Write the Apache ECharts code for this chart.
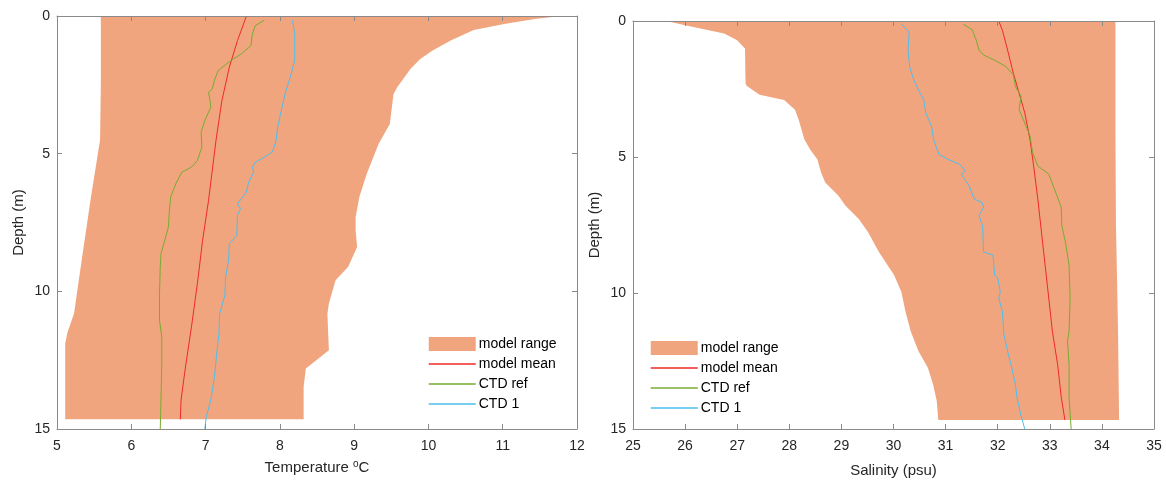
<!DOCTYPE html>
<html>
<head>
<meta charset="utf-8">
<script src="https://cdn.jsdelivr.net/npm/echarts@6/dist/echarts.min.js"></script>
<style>
  html, body { margin: 0; padding: 0; background: #ffffff; }
  #chart { width: 1166px; height: 483px; }
</style>
</head>
<body>
<div id="chart"></div>
<script>
// ---- Temperature profiles: [temperature (degC), depth (m)] ----
const tempRangeLow = [[5.59,0],[5.59,2.5],[5.58,4.5],[5.55,5.0],[5.45,6.7],[5.32,9.1],[5.23,10.8],[5.14,11.5],[5.11,11.9],[5.11,14.65]];
const tempRangeHigh = [[11.79,0],[11.43,0.11],[11.02,0.29],[10.61,0.51],[10.30,0.89],[10.05,1.26],[9.89,1.56],[9.76,1.92],[9.58,2.59],[9.53,2.83],[9.48,3.92],[9.33,4.64],[9.17,5.73],[9.07,6.57],[9.02,7.30],[9.02,7.78],[9.04,8.39],[8.92,9.11],[8.75,9.6],[8.66,10.44],[8.64,10.81],[8.66,12.14],[8.35,12.8],[8.32,13.47],[8.32,14.65]];
const tempMean = [[7.55,0],[7.43,0.89],[7.32,1.86],[7.22,3.07],[7.14,4.52],[7.04,6.7],[6.96,8.15],[6.89,9.72],[6.81,11.29],[6.73,12.74],[6.67,13.95],[6.66,14.65]];
const tempCtdRef = [[7.79,0.15],[7.67,0.35],[7.63,0.65],[7.61,1.08],[7.48,1.38],[7.35,1.6],[7.17,1.98],[7.12,2.34],[7.09,2.65],[7.04,2.77],[7.06,3.07],[7.07,3.31],[6.99,3.8],[6.94,4.22],[6.95,4.76],[6.89,5.25],[6.81,5.49],[6.68,5.67],[6.6,6.09],[6.53,6.58],[6.51,7.18],[6.5,7.66],[6.45,8.15],[6.4,8.63],[6.39,9.11],[6.38,10.08],[6.38,11.05],[6.41,11.65],[6.41,12.74],[6.39,15]];
const tempCtd1 = [[8.17,0.15],[8.2,0.65],[8.2,1.62],[8.14,2.22],[8.07,2.83],[8.02,3.43],[7.97,4.04],[7.95,4.52],[7.9,4.94],[7.79,5.13],[7.67,5.31],[7.63,5.49],[7.65,5.67],[7.58,6.03],[7.55,6.39],[7.43,6.82],[7.47,7.0],[7.43,7.24],[7.42,7.97],[7.32,8.27],[7.31,8.87],[7.27,9.48],[7.26,10.14],[7.19,10.81],[7.18,11.53],[7.15,12.26],[7.12,13.1],[7.07,13.95],[7.01,14.55],[6.99,15]];

// ---- Salinity profiles: [salinity (psu), depth (m)] ----
const salRangeLow = [[25.64,0],[26.0,0.16],[26.75,0.46],[27.0,0.71],[27.15,1.01],[27.16,2.29],[27.18,2.38],[27.43,2.71],[27.9,2.9],[28.11,3.26],[28.18,3.63],[28.29,4.36],[28.4,4.72],[28.54,5.09],[28.61,5.57],[28.69,5.94],[28.94,6.42],[29.08,6.79],[29.33,7.27],[29.51,7.76],[29.72,8.49],[30.01,9.34],[30.15,9.95],[30.23,10.68],[30.33,11.41],[30.48,12.14],[30.66,12.75],[30.76,13.36],[30.83,13.97],[30.86,14.67]];
const salRangeHigh = [[34.26,0],[34.26,4.0],[34.27,7.5],[34.31,11.4],[34.33,14.67]];
const salMean = [[32.02,0],[32.09,0.34],[32.19,1.07],[32.3,1.92],[32.41,2.65],[32.52,3.38],[32.62,4.36],[32.69,5.33],[32.77,6.55],[32.84,7.76],[32.91,8.98],[32.98,10.19],[33.05,11.41],[33.15,12.63],[33.22,13.84],[33.29,14.67]];
const salCtdRef = [[31.34,0.12],[31.51,0.32],[31.59,0.71],[31.64,1.07],[31.73,1.25],[31.94,1.44],[32.16,1.68],[32.3,1.98],[32.34,2.41],[32.45,2.77],[32.41,3.26],[32.52,3.75],[32.62,4.23],[32.67,4.84],[32.77,5.33],[32.98,5.63],[33.09,6.18],[33.22,6.85],[33.23,7.52],[33.3,8.13],[33.37,8.98],[33.39,10.19],[33.37,11.41],[33.34,11.78],[33.37,12.63],[33.37,13.84],[33.41,15.0]];
const salCtd1 = [[30.14,0.1],[30.3,0.4],[30.28,1.07],[30.31,1.68],[30.39,2.17],[30.48,2.53],[30.58,2.9],[30.62,3.38],[30.73,3.87],[30.77,4.36],[30.87,4.9],[31.05,5.09],[31.27,5.27],[31.38,5.51],[31.3,5.63],[31.45,6.06],[31.55,6.55],[31.7,6.67],[31.73,6.85],[31.64,7.15],[31.71,7.52],[31.73,8.49],[31.91,8.61],[31.94,9.34],[32.0,9.46],[32.05,9.95],[32.02,10.19],[32.09,10.68],[32.12,11.53],[32.19,12.14],[32.27,12.75],[32.34,13.36],[32.37,13.84],[32.44,14.45],[32.52,15.0]];

// ---- Axis settings ----
const depthTicks = { min: 0, max: 15, interval: 5 };
const tempTicks = { min: 5, max: 12, interval: 1 };
const salTicks = { min: 25, max: 35, interval: 1 };
const legendNames = ['model range', 'model mean', 'CTD ref', 'CTD 1'];

const FONT = "'Liberation Sans', Arial, Helvetica, sans-serif";
const AXIS_GRAY = '#8a8a8a';
const LABEL_DARK = '#262626';
const C_RANGE = '#F0A57E';
const C_MEAN = '#EE2A24';
const C_REF = '#77AC30';
const C_CTD1 = '#4DBEEE';

function xAxes(gridIndex, ticks, name, nameGap) {
  const common = {
    type: 'value', gridIndex, min: ticks.min, max: ticks.max, interval: ticks.interval,
    z: 10, splitLine: { show: false },
    axisLine: { show: true, onZero: false, lineStyle: { color: AXIS_GRAY, width: 1 } },
    axisTick: { show: true, inside: true, length: 5, lineStyle: { color: AXIS_GRAY } }
  };
  return [
    Object.assign({}, common, {
      position: 'bottom',
      axisLabel: { color: LABEL_DARK, fontSize: 14, fontFamily: FONT, margin: 10,
        showMinLabel: true, showMaxLabel: true },
      name, nameLocation: 'middle', nameGap,
      nameTextStyle: { color: LABEL_DARK, fontSize: 15, fontFamily: FONT,
        rich: { sup: { fontSize: 10, fontFamily: FONT, color: LABEL_DARK, verticalAlign: 'top', padding: [0, 0, 7, 0] } } }
    }),
    Object.assign({}, common, { position: 'top', axisLabel: { show: false } })
  ];
}

function yAxes(gridIndex, name, nameGap) {
  const common = {
    type: 'value', gridIndex, inverse: true,
    min: depthTicks.min, max: depthTicks.max, interval: depthTicks.interval,
    z: 10, splitLine: { show: false },
    axisLine: { show: true, onZero: false, lineStyle: { color: AXIS_GRAY, width: 1 } },
    axisTick: { show: true, inside: true, length: 5, lineStyle: { color: AXIS_GRAY } }
  };
  return [
    Object.assign({}, common, {
      position: 'left',
      axisLabel: { color: LABEL_DARK, fontSize: 14, fontFamily: FONT, margin: 7 },
      name, nameLocation: 'middle', nameGap,
      nameTextStyle: { color: LABEL_DARK, fontSize: 15, fontFamily: FONT }
    }),
    Object.assign({}, common, { position: 'right', axisLabel: { show: false } })
  ];
}

// filled band between the low and high model profiles
function rangeSeries(low, high, xAxisIndex, yAxisIndex) {
  return {
    name: 'model range', type: 'custom', xAxisIndex, yAxisIndex,
    color: C_RANGE, itemStyle: { color: C_RANGE },
    data: [low[0]], encode: { x: 0, y: 1 }, silent: true, z: 1,
    renderItem: function (params, api) {
      if (params.dataIndex !== 0) return null;
      const pts = low.map(p => api.coord(p)).concat(high.slice().reverse().map(p => api.coord(p)));
      return { type: 'polygon', shape: { points: pts }, style: { fill: C_RANGE } };
    }
  };
}

function profileLine(name, data, color, xAxisIndex, yAxisIndex) {
  return {
    name, type: 'line', xAxisIndex, yAxisIndex, data, color,
    showSymbol: false, symbol: 'none', smooth: false, z: 3,
    lineStyle: { color, width: 1 }, itemStyle: { color }
  };
}

function legendAt(left, top) {
  // line entries: keep the line sample, hide the marker
  const lineItem = n => ({ name: n, itemStyle: { opacity: 0 }, lineStyle: { width: 1.5 } });
  return {
    orient: 'vertical', left, top, itemWidth: 47, itemHeight: 14, itemGap: 6,
    selectedMode: false, padding: 0,
    textStyle: { color: '#000', fontSize: 14, fontFamily: FONT, padding: [0, 0, 0, -2] },
    data: [{ name: legendNames[0], icon: 'rect' }, lineItem(legendNames[1]), lineItem(legendNames[2]), lineItem(legendNames[3])]
  };
}

const chart = echarts.init(document.getElementById('chart'), null, { renderer: 'canvas' });

chart.setOption({
  animation: false,
  backgroundColor: '#ffffff',
  grid: [
    { left: 57, top: 16, width: 520, height: 413 },
    { left: 633, top: 21, width: 521, height: 410 }
  ],
  xAxis: [].concat(
    xAxes(0, tempTicks, 'Temperature {sup|o}C', 30),
    xAxes(1, salTicks, 'Salinity (psu)', 34)
  ),
  yAxis: [].concat(
    yAxes(0, 'Depth (m)', 31),
    yAxes(1, 'Depth (m)', 31)
  ),
  legend: [legendAt(428, 337), legendAt(650, 341)],
  series: [
    rangeSeries(tempRangeLow, tempRangeHigh, 0, 0),
    profileLine('model mean', tempMean, C_MEAN, 0, 0),
    profileLine('CTD ref', tempCtdRef, C_REF, 0, 0),
    profileLine('CTD 1', tempCtd1, C_CTD1, 0, 0),
    rangeSeries(salRangeLow, salRangeHigh, 2, 2),
    profileLine('model mean', salMean, C_MEAN, 2, 2),
    profileLine('CTD ref', salCtdRef, C_REF, 2, 2),
    profileLine('CTD 1', salCtd1, C_CTD1, 2, 2)
  ]
});
</script>
</body>
</html>
